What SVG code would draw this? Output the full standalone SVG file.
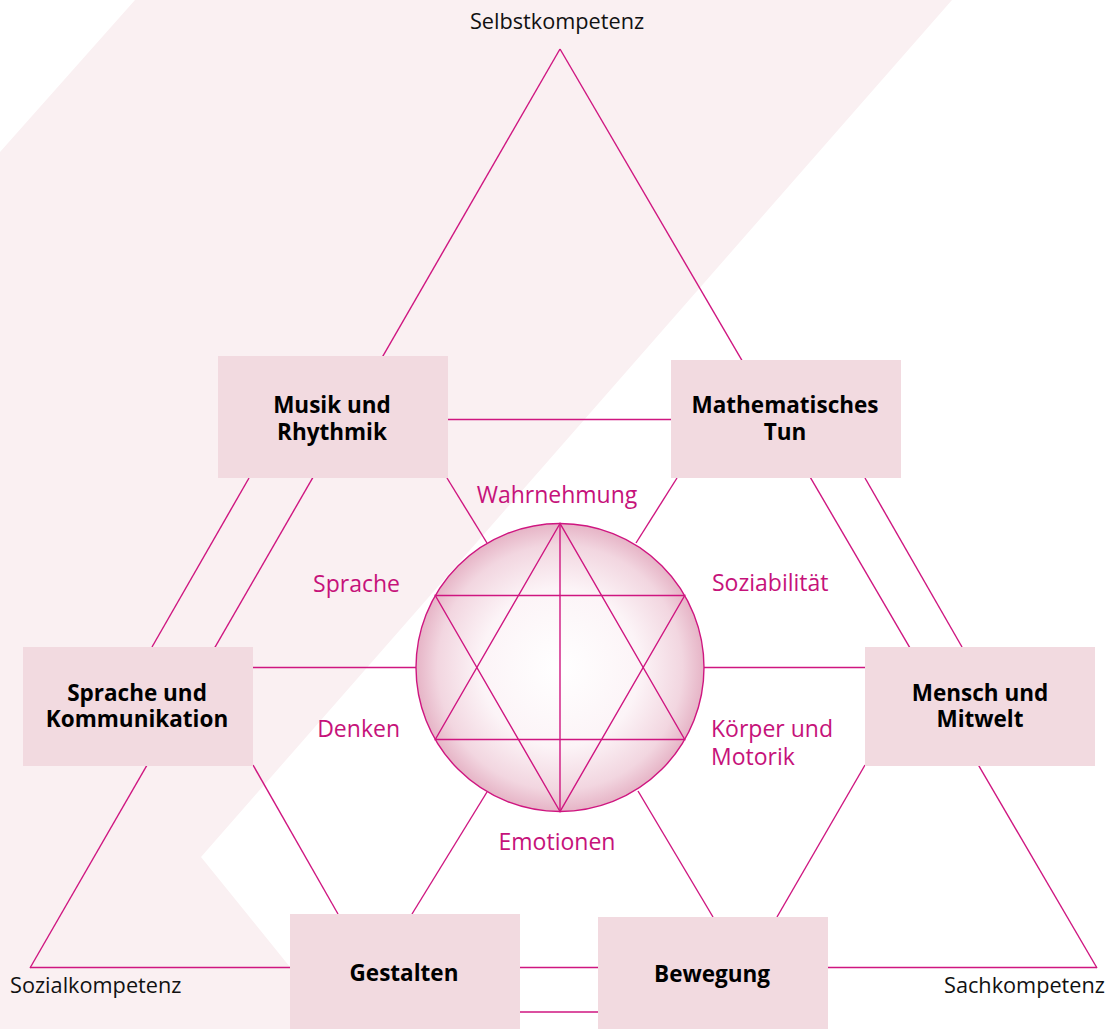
<svg xmlns="http://www.w3.org/2000/svg" width="1107" height="1029" viewBox="0 0 1107 1029">
  <defs>
    <radialGradient id="ballGrad" cx="0.5" cy="0.5" r="0.5">
      <stop offset="0" stop-color="#FFFFFF"/>
      <stop offset="0.55" stop-color="#FCF4F7"/>
      <stop offset="0.85" stop-color="#F2D6E0"/>
      <stop offset="1" stop-color="#E6B4C6"/>
    </radialGradient>
    <style>
      .ln { stroke: #CF1680; stroke-width: 1.4; fill: none; }
      .box { fill: #F2DAE0; }
      .bold { font-family: "Open Sans", "Noto Sans", "Liberation Sans", sans-serif; font-weight: 700; font-size: 22.5px; fill: #000000; text-anchor: middle; }
      .comp { font-family: "Open Sans", "Noto Sans", "Liberation Sans", sans-serif; font-size: 21.7px; fill: #111111; }
      .pink { font-family: "Open Sans", "Noto Sans", "Liberation Sans", sans-serif; font-size: 23px; fill: #C6127A; }
    </style>
  </defs>

  <rect width="1107" height="1029" fill="#FFFFFF"/>
  <polygon points="135,0 952,0 201,857 340,1029 0,1029 0,152" fill="#FAF0F2"/>

  <g id="connectors">
    <line class="ln" x1="560" y1="49" x2="30" y2="968"/>
    <line class="ln" x1="560" y1="49" x2="1097" y2="968"/>
    <line class="ln" x1="30" y1="967.5" x2="1097" y2="967.5"/>
    <line class="ln" x1="249" y1="478" x2="152" y2="647"/>
    <line class="ln" x1="865" y1="478" x2="962" y2="647"/>
    <line class="ln" x1="520" y1="1012" x2="598" y2="1012"/>
    <line class="ln" x1="448" y1="419.5" x2="671" y2="419.5"/>
    <line class="ln" x1="253" y1="765" x2="338" y2="914"/>
    <line class="ln" x1="865" y1="765" x2="777" y2="917"/>
    <line class="ln" x1="447" y1="478" x2="487" y2="543"/>
    <line class="ln" x1="677" y1="478" x2="636" y2="543"/>
    <line class="ln" x1="253" y1="667.5" x2="416" y2="667.5"/>
    <line class="ln" x1="704" y1="667.5" x2="865" y2="667.5"/>
    <line class="ln" x1="412" y1="914" x2="487" y2="792"/>
    <line class="ln" x1="713" y1="917" x2="638" y2="791"/>
  </g>

  <g id="center-circle">
    <circle cx="560" cy="667.5" r="144" fill="url(#ballGrad)" stroke="#CF1680" stroke-width="1.4"/>
    <polygon class="ln" points="560,523.5 435.3,739.5 684.7,739.5"/>
    <polygon class="ln" points="560,811.5 435.3,595.5 684.7,595.5"/>
    <line class="ln" x1="560" y1="523.5" x2="560" y2="811.5"/>
  </g>

  <g id="label-selbstkompetenz"><text class="comp" x="557" y="29" text-anchor="middle">Selbstkompetenz</text></g>
  <g id="label-sozialkompetenz"><text class="comp" x="10" y="993">Sozialkompetenz</text></g>
  <g id="label-sachkompetenz"><text class="comp" x="1105" y="993" text-anchor="end">Sachkompetenz</text></g>

  <g id="node-musik">
    <rect class="box" x="218" y="356" width="230" height="122"/>
    <text class="bold" x="332" y="413">Musik und<tspan x="332" dy="26.5">Rhythmik</tspan></text>
  </g>
  <g id="node-mathe">
    <rect class="box" x="671" y="360" width="230" height="118"/>
    <text class="bold" x="785" y="413">Mathematisches<tspan x="785" dy="26.5">Tun</tspan></text>
  </g>
  <g id="node-sprache">
    <rect class="box" x="23" y="647" width="230" height="119"/>
    <text class="bold" x="137" y="701">Sprache und<tspan x="137" dy="26">Kommunikation</tspan></text>
  </g>
  <g id="node-mensch">
    <rect class="box" x="865" y="647" width="230" height="119"/>
    <text class="bold" x="980" y="701">Mensch und<tspan x="980" dy="26">Mitwelt</tspan></text>
  </g>
  <g id="node-gestalten">
    <rect class="box" x="290" y="914" width="230" height="115"/>
    <text class="bold" x="404" y="981">Gestalten</text>
  </g>
  <g id="node-bewegung">
    <rect class="box" x="598" y="917" width="230" height="112"/>
    <text class="bold" x="712" y="982">Bewegung</text>
  </g>

  <g id="aspect-labels">
    <text class="pink" x="557" y="503" text-anchor="middle">Wahrnehmung</text>
    <text class="pink" x="400" y="592" text-anchor="end">Sprache</text>
    <text class="pink" x="712" y="591">Soziabilität</text>
    <text class="pink" x="400" y="737" text-anchor="end">Denken</text>
    <text class="pink" x="711" y="737">Körper und<tspan x="711" dy="28">Motorik</tspan></text>
    <text class="pink" x="557" y="850" text-anchor="middle">Emotionen</text>
  </g>
</svg>
